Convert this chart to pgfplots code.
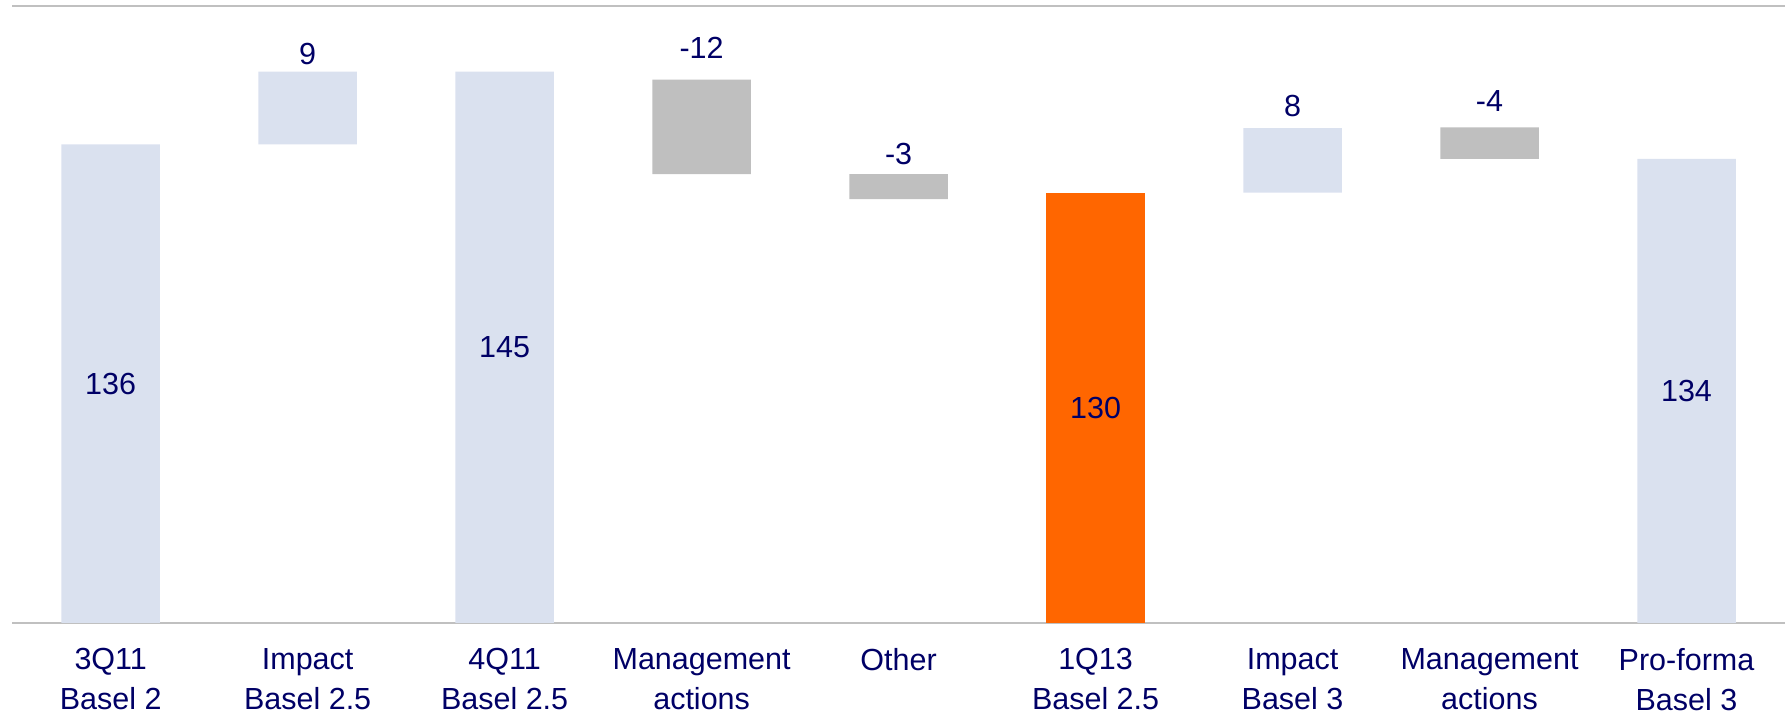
\documentclass[border=0pt]{standalone}
\usepackage{pgfplots}
\pgfplotsset{compat=1.18}
\usepackage{pgfplotstable}
\usepackage{fontspec}
\setmainfont{Liberation Sans}
\definecolor{barblue}{HTML}{DAE1EF}
\definecolor{bargray}{HTML}{BFBFBF}
\definecolor{barorange}{HTML}{FF6600}
\definecolor{txt}{HTML}{000066}
\definecolor{linegray}{HTML}{C0C0C0}

\pgfplotstableread{
x base blue gray orange
0 0     136   0    0
1 136   9     0    0
2 0     145   0    0
3 132.3 0     11.7 0
4 129.2 0     3.1  0
5 0     0     0    130
6 130   8     0    0
7 134.2 0     3.9  0
8 0     134.2 0    0
}\bars

\pgfplotstableread{
x y lab
1 145.83 9
3 146.67 -12
4 133.45 -3
6 139.44 8
7 140.06 -4
}\deltalabels

\pgfplotstableread{
x y lab
0 106.35 136
2 110.85 145
5 103.35 130
8 105.45 134
}\totallabels

\newcommand{\lblfont}{\fontsize{12.2pt}{15.76pt}\selectfont}

\pgfplotsset{
  common/.style={
    scale only axis, width=709.2pt, height=246.7pt,
    xmin=-0.5, xmax=8.5, ymin=76.7, ymax=153.1,
    at={(0,0)}, anchor=south west,
  }
}

\begin{document}
\begin{tikzpicture}
\begin{axis}[common,
  ybar stacked, bar width=0.5,
  separate axis lines,
  x axis line style={draw=linegray, line width=1pt},
  y axis line style={draw=none},
  ytick=\empty,
  xtick={0,...,8},
  major tick length=0pt,
  xticklabels={{3Q11\\Basel 2},{Impact\\Basel 2.5},{4Q11\\Basel 2.5},{Management\\actions},{Other},{1Q13\\Basel 2.5},{Impact\\Basel 3},{Management\\actions},{Pro-forma\\Basel 3}},
  xticklabel style={font=\lblfont, text=txt, align=center, anchor=north, inner sep=0pt, yshift=-10.1pt},
]
\addplot[draw=none, fill=none] table[x=x, y=base] {\bars};
\addplot[draw=none, fill=barblue] table[x=x, y=blue] {\bars};
\addplot[draw=none, fill=bargray] table[x=x, y=gray] {\bars};
\addplot[draw=none, fill=barorange] table[x=x, y=orange] {\bars};
\end{axis}
\begin{axis}[common, hide axis]
\addplot[draw=none, mark=none, nodes near coords, point meta=explicit symbolic,
  nodes near coords style={font=\lblfont, text=txt, anchor=base, inner sep=0pt}]
  table[x=x, y=y, meta=lab] {\deltalabels};
\addplot[draw=none, mark=none, nodes near coords, point meta=explicit symbolic,
  nodes near coords style={font=\lblfont, text=txt, anchor=center, inner sep=0pt}]
  table[x=x, y=y, meta=lab] {\totallabels};
\end{axis}
\pgfresetboundingbox
\path[use as bounding box] (-4.88pt,-36.8pt) rectangle (710.8pt,249.2pt);
\end{tikzpicture}
\end{document}
